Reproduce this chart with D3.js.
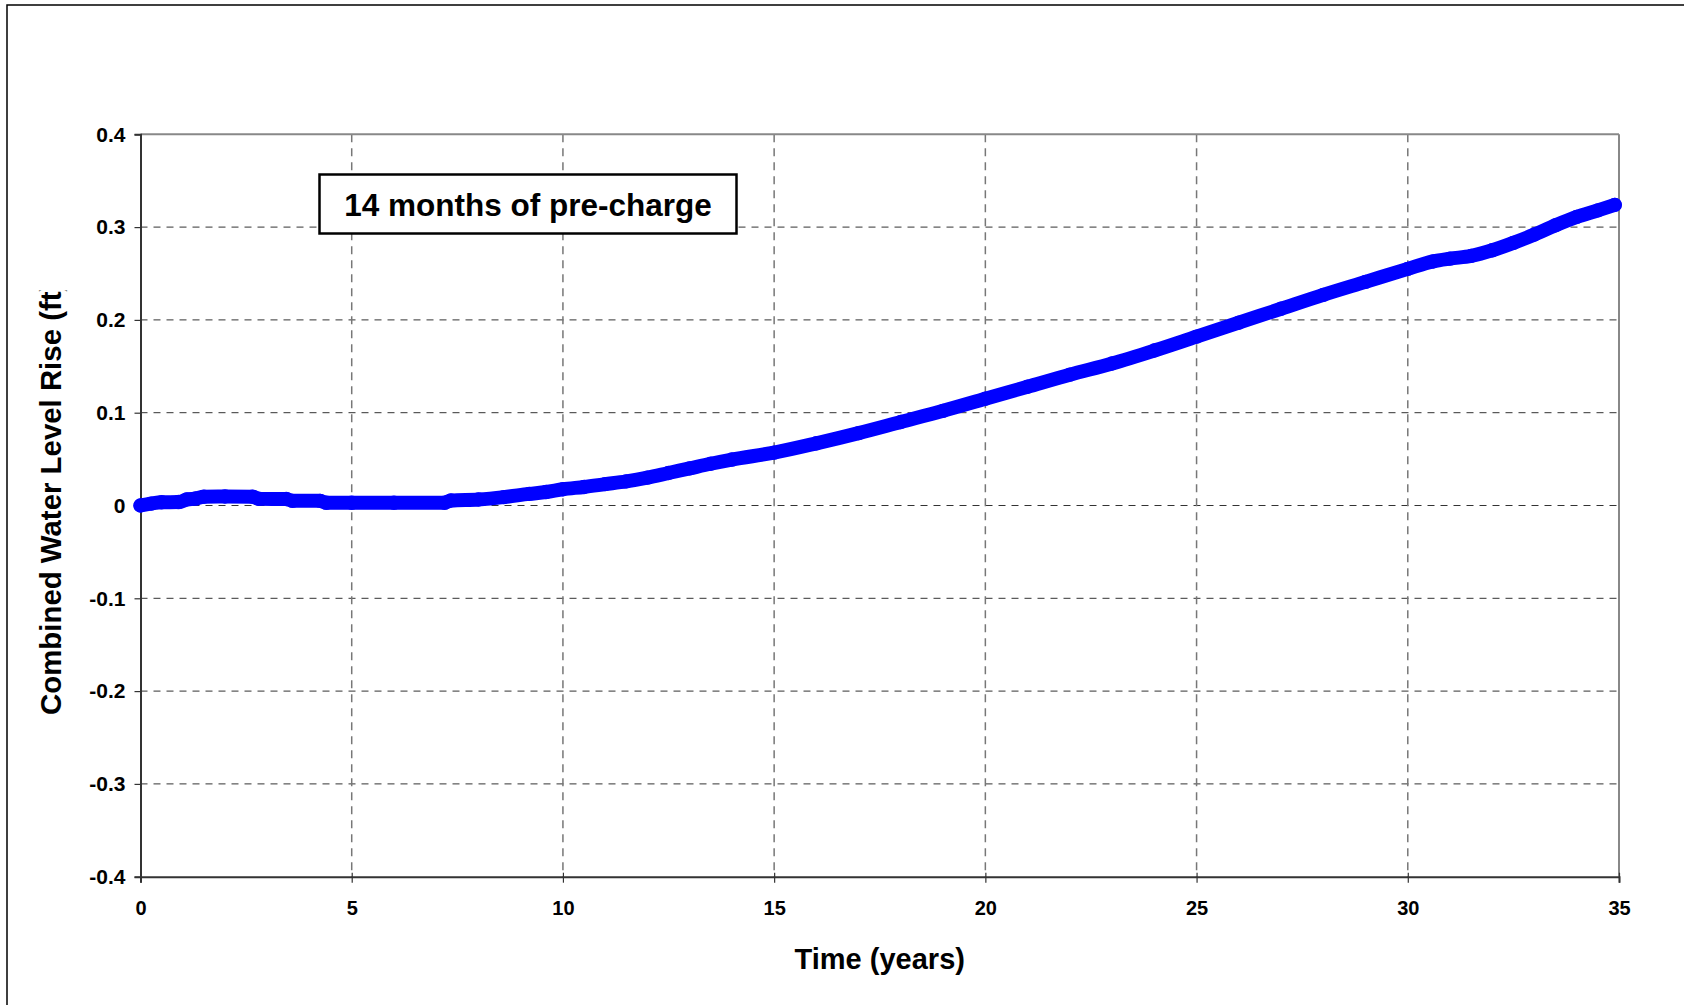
<!DOCTYPE html>
<html>
<head>
<meta charset="utf-8">
<script src="https://cdn.jsdelivr.net/npm/d3@7"></script>
<style>
  html, body { margin: 0; padding: 0; background: #fff; }
  svg { display: block; }
  text { font-family: "Liberation Sans", Arial, sans-serif; font-weight: bold; fill: #000; }
</style>
</head>
<body>
<svg id="chart" width="1684" height="1005"></svg>
<script>
// ---- data ----
const years = [0, 0.25, 0.5, 0.9, 1.1, 1.3, 1.5, 2.0, 2.65, 2.8, 3.45, 3.6, 4.25, 4.4, 5, 6, 7.2, 7.35, 8.0, 8.6, 9.2, 9.6, 10, 10.5, 11, 11.5, 12, 12.5, 13, 13.5, 14, 15, 16, 17, 18, 19, 20, 21, 22, 23, 24, 25, 26, 27, 28, 29, 30, 30.6, 31.0, 31.5, 32, 32.5, 33, 33.5, 34, 34.5, 34.9];
const rise  = [0, 0.002, 0.0035, 0.0037, 0.0065, 0.0075, 0.0095, 0.0097, 0.0095, 0.0072, 0.007, 0.005, 0.005, 0.003, 0.003, 0.003, 0.003, 0.0054, 0.0065, 0.009, 0.0125, 0.0145, 0.0175, 0.02, 0.023, 0.026, 0.030, 0.035, 0.040, 0.045, 0.0495, 0.057, 0.067, 0.078, 0.090, 0.102, 0.115, 0.128, 0.141, 0.153, 0.167, 0.182, 0.197, 0.212, 0.227, 0.241, 0.255, 0.263, 0.266, 0.269, 0.275, 0.283, 0.292, 0.302, 0.311, 0.318, 0.324];
const xTicks = [0, 5, 10, 15, 20, 25, 30, 35];
const yTicks = [-0.4, -0.3, -0.2, -0.1, 0, 0.1, 0.2, 0.3, 0.4];
const xTitle = "Time (years)";
const yTitle = "Combined Water Level Rise (ft)";
const note = "14 months of pre-charge";

// ---- layout ----
const L = 140.5, R = 1619, T = 134.3, B = 876.7;
const svg = d3.select("#chart");
const x = d3.scaleLinear().domain([0, 35]).range([L, R]);
const y = d3.scaleLinear().domain([-0.4, 0.4]).range([B, T]);

// outer frame
svg.append("rect").attr("x", 7).attr("y", 5).attr("width", 1700).attr("height", 1020)
  .attr("fill", "none").attr("stroke", "#000").attr("stroke-width", 1.5);

// gridlines
svg.append("g").selectAll("line").data(yTicks.filter(d => d > -0.4 && d < 0.4)).join("line")
  .attr("x1", L).attr("x2", R).attr("y1", d => y(d)).attr("y2", d => y(d))
  .attr("stroke", "#333").attr("stroke-width", 1).attr("stroke-dasharray", "7,6");
svg.append("g").selectAll("line").data(xTicks.filter(d => d > 0 && d < 35)).join("line")
  .attr("x1", d => x(d)).attr("x2", d => x(d)).attr("y1", T).attr("y2", B)
  .attr("stroke", "#777").attr("stroke-width", 1.5).attr("stroke-dasharray", "8,6");

// plot border: top & right grey, left & bottom dark
svg.append("line").attr("x1", L).attr("x2", R).attr("y1", T).attr("y2", T).attr("stroke", "#888").attr("stroke-width", 2);
svg.append("line").attr("x1", R).attr("x2", R).attr("y1", T).attr("y2", B).attr("stroke", "#888").attr("stroke-width", 2);

// axes
const yAxis = svg.append("g").attr("transform", `translate(${L},0)`)
  .call(d3.axisLeft(y).tickValues(yTicks).tickSize(6).tickPadding(9)
    .tickFormat(d => d === 0 ? "0" : d.toFixed(1)));
const xAxis = svg.append("g").attr("transform", `translate(0,${B})`)
  .call(d3.axisBottom(x).tickValues(xTicks).tickSize(6).tickPadding(18)
    .tickFormat(d => String(d)));
[yAxis, xAxis].forEach(g => {
  g.select(".domain").attr("stroke", "#333").attr("stroke-width", 2);
  g.selectAll(".tick line").attr("stroke", "#333").attr("stroke-width", 1.2);
  g.selectAll("text").attr("fill", "#000").style("font-family", '"Liberation Sans", Arial, sans-serif').style("font-weight", "bold");
});
yAxis.selectAll("text").style("font-size", "21px");
xAxis.selectAll("text").style("font-size", "20px");
xAxis.selectAll(".tick line").attr("y1", -4);

// axis titles
svg.append("text").attr("x", (L + R) / 2).attr("y", 969).attr("text-anchor", "middle")
  .style("font-size", "29px").text(xTitle);
svg.append("defs").append("clipPath").attr("id", "yclip")
  .append("rect").attr("x", 0).attr("y", 290.5).attr("width", 130).attr("height", 600);
svg.append("g").attr("clip-path", "url(#yclip)")
  .append("text").attr("transform", "translate(61,715) rotate(-90)").attr("text-anchor", "start")
  .style("font-size", "29.4px").text(yTitle);

// series
const pts = years.map((t, i) => [t, rise[i]]);
svg.append("path").datum(pts)
  .attr("d", d3.line().x(d => x(d[0])).y(d => y(d[1])).curve(d3.curveMonotoneX))
  .attr("fill", "none").attr("stroke", "#0000FF").attr("stroke-width", 14)
  .attr("stroke-linejoin", "round").attr("stroke-linecap", "round");
svg.append("g").selectAll("circle").data(pts).join("circle")
  .attr("cx", d => x(d[0])).attr("cy", d => y(d[1])).attr("r", 7.2).attr("fill", "#0000FF");

// annotation box
svg.append("rect").attr("x", 319.5).attr("y", 174.5).attr("width", 417).attr("height", 59)
  .attr("fill", "#fff").attr("stroke", "#000").attr("stroke-width", 2.5);
svg.append("text").attr("x", 528).attr("y", 216).attr("text-anchor", "middle")
  .style("font-size", "31.5px").text(note);
</script>
</body>
</html>
